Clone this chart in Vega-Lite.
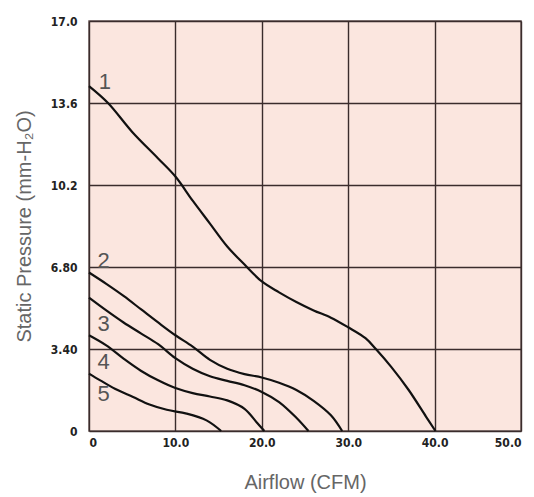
{
  "$schema": "https://vega.github.io/schema/vega-lite/v6.json",
  "width": 432,
  "height": 410,
  "autosize": {"type": "none"},
  "padding": {"left": 89, "top": 21, "right": 13, "bottom": 66},
  "background": "white",
  "view": {"fill": "#FBE6DF", "stroke": "#6b5a58", "strokeWidth": 1.5},
  "datasets": {
    "curves": [
      {"fan": "1", "cfm": 0, "p": 14.3},
      {"fan": "1", "cfm": 2.2, "p": 13.6},
      {"fan": "1", "cfm": 5, "p": 12.4},
      {"fan": "1", "cfm": 8, "p": 11.3},
      {"fan": "1", "cfm": 10, "p": 10.55},
      {"fan": "1", "cfm": 12, "p": 9.55},
      {"fan": "1", "cfm": 14, "p": 8.6},
      {"fan": "1", "cfm": 16, "p": 7.65},
      {"fan": "1", "cfm": 18, "p": 6.9},
      {"fan": "1", "cfm": 20, "p": 6.2},
      {"fan": "1", "cfm": 22, "p": 5.75},
      {"fan": "1", "cfm": 24, "p": 5.35},
      {"fan": "1", "cfm": 26, "p": 5.0},
      {"fan": "1", "cfm": 28, "p": 4.7},
      {"fan": "1", "cfm": 30, "p": 4.3},
      {"fan": "1", "cfm": 32, "p": 3.85},
      {"fan": "1", "cfm": 33.2, "p": 3.4},
      {"fan": "1", "cfm": 35, "p": 2.65},
      {"fan": "1", "cfm": 37, "p": 1.7},
      {"fan": "1", "cfm": 39, "p": 0.6},
      {"fan": "1", "cfm": 40.1, "p": 0},
      {"fan": "2", "cfm": 0, "p": 6.57},
      {"fan": "2", "cfm": 2, "p": 6.1},
      {"fan": "2", "cfm": 4, "p": 5.6},
      {"fan": "2", "cfm": 6, "p": 5.05},
      {"fan": "2", "cfm": 8, "p": 4.5},
      {"fan": "2", "cfm": 10, "p": 3.97},
      {"fan": "2", "cfm": 12, "p": 3.5},
      {"fan": "2", "cfm": 14, "p": 2.95},
      {"fan": "2", "cfm": 16, "p": 2.58},
      {"fan": "2", "cfm": 18, "p": 2.36},
      {"fan": "2", "cfm": 20, "p": 2.22},
      {"fan": "2", "cfm": 22, "p": 2.0},
      {"fan": "2", "cfm": 24, "p": 1.7},
      {"fan": "2", "cfm": 26, "p": 1.25},
      {"fan": "2", "cfm": 28, "p": 0.65},
      {"fan": "2", "cfm": 29.3, "p": 0},
      {"fan": "3", "cfm": 0, "p": 5.53},
      {"fan": "3", "cfm": 2, "p": 5.0},
      {"fan": "3", "cfm": 4, "p": 4.5},
      {"fan": "3", "cfm": 6, "p": 4.05},
      {"fan": "3", "cfm": 8, "p": 3.6},
      {"fan": "3", "cfm": 10, "p": 3.02},
      {"fan": "3", "cfm": 12, "p": 2.58},
      {"fan": "3", "cfm": 14, "p": 2.27},
      {"fan": "3", "cfm": 16, "p": 2.08},
      {"fan": "3", "cfm": 18, "p": 1.9},
      {"fan": "3", "cfm": 20, "p": 1.62},
      {"fan": "3", "cfm": 22, "p": 1.2},
      {"fan": "3", "cfm": 24, "p": 0.55},
      {"fan": "3", "cfm": 25.4, "p": 0},
      {"fan": "4", "cfm": 0, "p": 3.97},
      {"fan": "4", "cfm": 2, "p": 3.55},
      {"fan": "4", "cfm": 4, "p": 3.0},
      {"fan": "4", "cfm": 6, "p": 2.5},
      {"fan": "4", "cfm": 8, "p": 2.1},
      {"fan": "4", "cfm": 10, "p": 1.78},
      {"fan": "4", "cfm": 12, "p": 1.57},
      {"fan": "4", "cfm": 14, "p": 1.43},
      {"fan": "4", "cfm": 16, "p": 1.27},
      {"fan": "4", "cfm": 18, "p": 0.92},
      {"fan": "4", "cfm": 19.5, "p": 0.32},
      {"fan": "4", "cfm": 20.3, "p": 0},
      {"fan": "5", "cfm": 0, "p": 2.38},
      {"fan": "5", "cfm": 1.3, "p": 2.1},
      {"fan": "5", "cfm": 3, "p": 1.75},
      {"fan": "5", "cfm": 5.1, "p": 1.41},
      {"fan": "5", "cfm": 7, "p": 1.1},
      {"fan": "5", "cfm": 9, "p": 0.88},
      {"fan": "5", "cfm": 11.3, "p": 0.72},
      {"fan": "5", "cfm": 13.6, "p": 0.44},
      {"fan": "5", "cfm": 15.3, "p": 0}
    ],
    "labels": [
      {"fan": "1", "cfm": 1.85, "p": 14.46},
      {"fan": "2", "cfm": 1.7, "p": 7.05},
      {"fan": "3", "cfm": 1.7, "p": 4.45},
      {"fan": "4", "cfm": 1.7, "p": 2.86},
      {"fan": "5", "cfm": 1.7, "p": 1.52}
    ]
  },
  "config": {
    "axis": {
      "grid": true,
      "gridColor": "#3a2c2c",
      "gridOpacity": 1,
      "gridWidth": 1.4,
      "domain": false,
      "ticks": false,
      "labelFont": "DejaVu Sans Condensed",
      "labelFontSize": 12,
      "labelFontWeight": "bold",
      "labelColor": "#222",
      "titleFont": "Liberation Sans",
      "titleFontSize": 20,
      "titleFontWeight": "normal",
      "titleColor": "#666"
    }
  },
  "layer": [
    {
      "data": {"name": "curves"},
      "mark": {"type": "line", "color": "#111", "strokeWidth": 2.2, "interpolate": "catmull-rom"},
      "encoding": {
        "x": {
          "field": "cfm", "type": "quantitative",
          "scale": {"domain": [0, 50], "nice": false},
          "axis": {
            "values": [0, 10, 20, 30, 40, 50],
            "labelExpr": "datum.value == 0 ? '0' : format(datum.value, '.1f')",
            "labelPadding": 6,
            "title": "Airflow (CFM)",
            "titlePadding": 24
          }
        },
        "y": {
          "field": "p", "type": "quantitative",
          "scale": {"domain": [0, 17], "nice": false},
          "axis": {
            "values": [0, 3.4, 6.8, 10.2, 13.6, 17],
            "labelExpr": "datum.value == 0 ? '0' : (datum.value < 10 ? format(datum.value, '.2f') : format(datum.value, '.1f'))",
            "labelPadding": 12,
            "title": "Static Pressure (mm-H₂O)",
            "titlePadding": 16
          }
        },
        "detail": {"field": "fan", "type": "nominal"}
      }
    },
    {
      "data": {"name": "labels"},
      "mark": {"type": "text", "fontSize": 22, "font": "Liberation Sans", "color": "#555", "align": "center", "baseline": "middle"},
      "encoding": {
        "x": {"field": "cfm", "type": "quantitative"},
        "y": {"field": "p", "type": "quantitative"},
        "text": {"field": "fan", "type": "nominal"}
      }
    }
  ]
}
